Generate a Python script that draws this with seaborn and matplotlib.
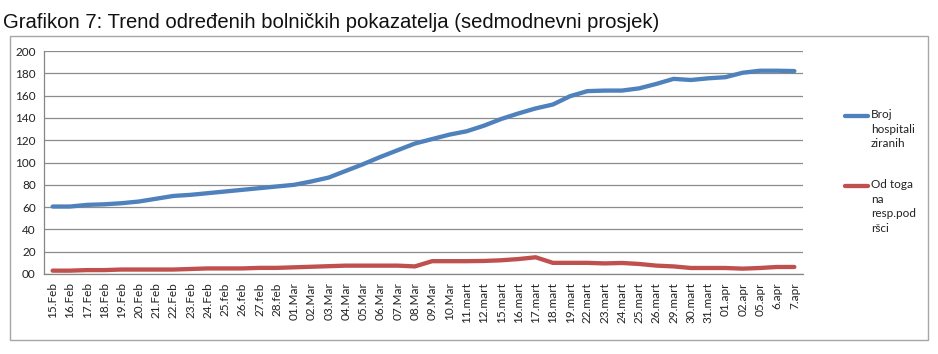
import numpy as np
import pandas as pd
import matplotlib
matplotlib.use("Agg")
import matplotlib.pyplot as plt
import seaborn as sns
from matplotlib.lines import Line2D
from matplotlib.patches import Rectangle

dates = ["15.Feb", "16.Feb", "17.Feb", "18.Feb", "19.Feb", "20.Feb", "21.Feb", "22.Feb",
         "23.Feb", "24.Feb", "25.feb", "26.feb", "27.feb", "28.feb", "01.Mar", "02.Mar",
         "03.Mar", "04.Mar", "05.Mar", "06.Mar", "07.Mar", "08.Mar", "09.Mar", "10.Mar",
         "11.mart", "12.mart", "15.mart", "16.mart", "17.mart", "18.mart", "19.mart",
         "22.mart", "23.mart", "24.mart", "25.mart", "26.mart", "29.mart", "30.mart",
         "31.mart", "01.apr", "02.apr", "05.apr", "6.apr", "7.apr"]

hospitalizirani = [60.5, 60.5, 62, 62.5, 63.5, 65, 67.5, 70, 71, 72.5, 74, 75.5, 77, 78.5,
                   80, 83, 86.5, 92.5, 98.5, 105, 111, 117, 121, 125, 128, 133, 139, 144,
                   148.5, 152, 159.5, 164, 164.5, 164.5, 166.5, 170.5, 175, 174, 175.5,
                   176.5, 180.5, 182.3, 182.3, 182]

respirator = [3, 3, 3.5, 3.5, 4, 4, 4, 4, 4.5, 5, 5, 5, 5.5, 5.5, 6, 6.5, 7, 7.5, 7.5, 7.5,
              7.5, 6.8, 11.5, 11.5, 11.5, 11.7, 12.3, 13.4, 15, 10, 10, 10, 9.5, 9.9, 9,
              7.5, 6.8, 5.4, 5.4, 5.4, 4.8, 5.4, 6.3, 6.3]

series_names = ["Broj\nhospitali\nziranih", "Od toga\nna\nresp.pod\nršci"]
yticks = [0, 20, 40, 60, 80, 100, 120, 140, 160, 180, 200]
ytick_labels = ["00", "20", "40", "60", "80", "100", "120", "140", "160", "180", "200"]
colors = ["#4F81BD", "#C0504D"]

idx = np.arange(len(dates))
df = pd.DataFrame({
    "pos": np.concatenate([idx, idx]),
    "value": hospitalizirani + respirator,
    "series": [series_names[0]] * len(dates) + [series_names[1]] * len(dates),
})

W, H = 938, 354
sns.set_theme(style="white")
plt.rcParams["font.family"] = ["Lato", "DejaVu Sans"]

fig = plt.figure(figsize=(W / 100, H / 100), dpi=100)
fig.patch.set_facecolor("white")

# outer frame
fig.patches.append(Rectangle((10 / W, 1 - 340 / H), (928 - 10) / W, (340 - 36) / H,
                             transform=fig.transFigure, fill=False,
                             edgecolor="#a6a6a6", linewidth=1.0, zorder=0))

ax = fig.add_axes([44 / W, 1 - 274 / H, (803 - 44) / W, (274 - 51) / H])
sns.lineplot(data=df, x="pos", y="value", hue="series", palette=colors,
             linewidth=3.1, sort=False, legend=False, ax=ax, solid_capstyle="round")

ax.set_xlim(-0.5, len(dates) - 0.5)
ax.set_ylim(0, 200)
ax.set_yticks(yticks)
ax.set_yticklabels(ytick_labels, fontsize=8.5, color="#222222")
ax.set_xticks(idx)
ax.set_xticklabels(dates, rotation=90, fontsize=8.5, color="#222222")
ax.set_xticks(np.arange(-0.5, len(dates), 1.0), minor=True)
ax.tick_params(axis="x", which="major", length=0, pad=6)
ax.tick_params(axis="x", which="minor", length=4, width=0.8, color="#868686", direction="out")
ax.tick_params(axis="y", which="major", length=4, width=0.8, color="#868686", direction="out", pad=2)
ax.set_xlabel("")
ax.set_ylabel("")
ax.grid(axis="y", color="#8c8c8c", linewidth=0.9)
ax.set_axisbelow(True)
for s in ["top", "right"]:
    ax.spines[s].set_visible(False)
for s in ["left", "bottom"]:
    ax.spines[s].set_color("#868686")
    ax.spines[s].set_linewidth(0.9)

# legend
leg_y = [116, 186]
for name, c, yy in zip(series_names, colors, leg_y):
    fig.lines.append(Line2D([845 / W, 868 / W], [1 - yy / H, 1 - yy / H],
                            transform=fig.transFigure, color=c, linewidth=3.1,
                            solid_capstyle="round"))
    fig.text(871 / W, 1 - (yy - 7) / H, name, fontsize=8.5, va="top", ha="left",
             linespacing=1.4, color="#222222")

fig.text(3 / W, 1 - 28 / H,
         "Grafikon 7: Trend određenih bolničkih pokazatelja (sedmodnevni prosjek)",
         family=["Liberation Sans", "DejaVu Sans"],
         fontsize=14.6, va="baseline", ha="left", color="#111111")

fig.savefig("out.png", dpi=100, facecolor="white")
